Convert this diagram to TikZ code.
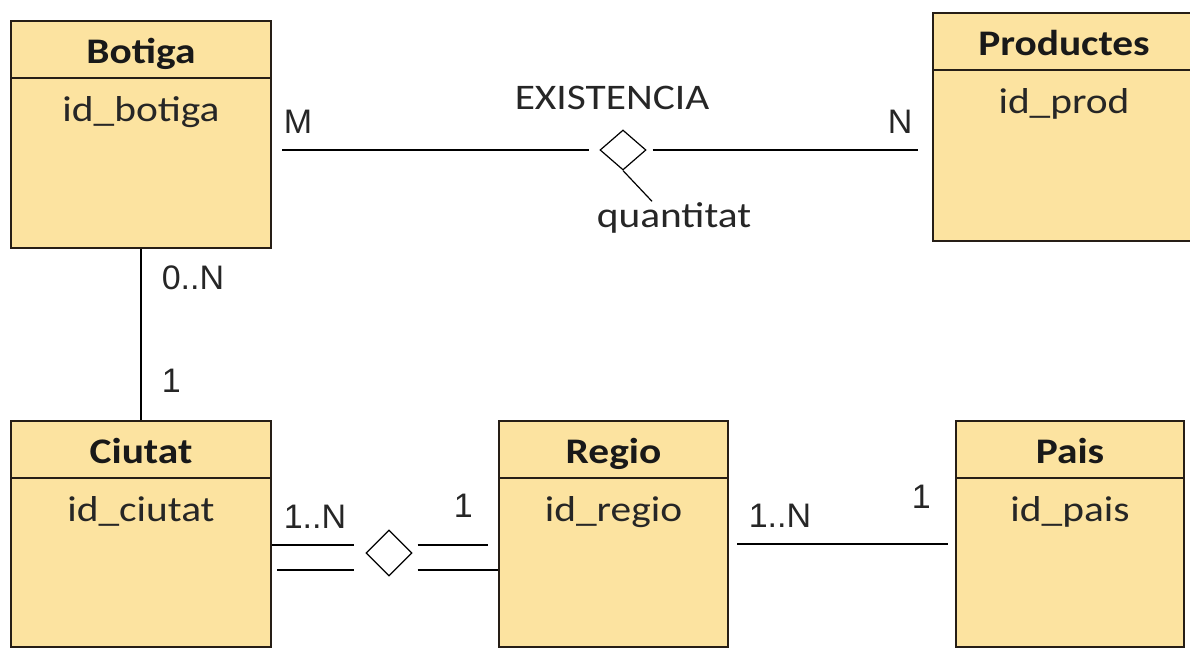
\documentclass[tikz,border=0pt]{standalone}
\usepackage{fontspec}
\setmainfont{Carlito}[FakeStretch=1.15]
\newfontfamily\cardfont{Liberation Sans}
\usetikzlibrary{calc}
\usetikzlibrary{shapes.geometric}
\definecolor{caixa}{RGB}{252,227,160}
\definecolor{vora}{RGB}{38,30,22}

\tikzset{
 entitat/.style={draw=vora, line width=1pt, fill=caixa, inner sep=0, anchor=north west},
 relacio/.style={draw=black, diamond, minimum width=23pt, minimum height=23pt, inner sep=0, line width=0.6pt},
 card/.style={font=\cardfont\fontsize{17}{17}\selectfont, anchor=base west, inner sep=0, text=black!85},
 titol/.style={font=\fontsize{18}{18}\selectfont\bfseries, anchor=base, inner sep=0, text=black!90},
 atribut/.style={font=\fontsize{18}{18}\selectfont, anchor=base, inner sep=0, text=black!85},
}

\begin{document}
\begin{tikzpicture}[x=0.5pt, y=-0.5pt, line width=0.8pt]
\clip (0,0) rectangle (1190,648);
\foreach \nom/\x/\y/\amp/\alt/\tit/\atr in {botiga/10/20/260/227/Botiga/id\_botiga, productes/932/12/262/228/Productes/id\_prod, ciutat/10/420/260/226/Ciutat/id\_ciutat, regio/498/420/229/226/Regio/id\_regio, pais/955/420/228/226/Pais/id\_pais} {
 \node[entitat, minimum width=\amp*0.5pt, minimum height=\alt*0.5pt] (\nom) at (\x,\y) {};
 \draw[vora, line width=1pt] (\nom.north west) ++(0,58) --++(\amp,0);
 \node[titol] (\nom-titol) at ($(\nom.north)+(0,43)$) {\tit};
 \node[atribut] (\nom-atr) at ($(\nom.north)+(0,101)$) {\atr};
}
\node[relacio, minimum height=20pt] (existencia) at (623,150) {};
\node[relacio] (pertany) at (389,553) {};
\node[atribut] (existencia-nom) at (612,109) {EXISTENCIA};
\node[atribut] (quantitat) at (674,227) {quantitat};
\draw[shorten <=5pt, shorten >=5pt] (botiga.east |- existencia.west) -- (existencia.west);
\draw[shorten <=3pt, shorten >=7pt] (existencia.east) -- (productes.west |- existencia.east);
\draw[line width=0.6pt] (existencia.south) -- ([xshift=-11pt]quantitat.north);
\draw (botiga.south) -- (ciutat.north);
\draw[transform canvas={yshift=4pt}, shorten >=5.5pt] (ciutat.east |- pertany.west) -- (pertany.west);
\draw[transform canvas={yshift=-8.5pt}, shorten <=2.5pt, shorten >=5.5pt] (ciutat.east |- pertany.west) -- (pertany.west);
\draw[transform canvas={yshift=4pt}, shorten <=2.5pt, shorten >=5pt] (pertany.east) -- (regio.west |- pertany.east);
\draw[transform canvas={yshift=-8.5pt}, shorten <=2.5pt] (pertany.east) -- (regio.west |- pertany.east);
\draw[transform canvas={yshift=-5pt}, shorten <=4pt, shorten >=3.5pt] (regio.east) -- (pais.west);
\node[card] (card-m) at (283,133) {M};
\node[card] (card-n) at (887,133) {N};
\node[card] (card-0n) at (161,289) {0..N};
\node[card] (card-1a) at (161,392) {1};
\node[card] (card-1n) at (283,528) {1..N};
\node[card] (card-1b) at (453,517) {1};
\node[card] (card-1nb) at (748,527) {1..N};
\node[card] (card-1c) at (911,508) {1};
\end{tikzpicture}
\end{document}
